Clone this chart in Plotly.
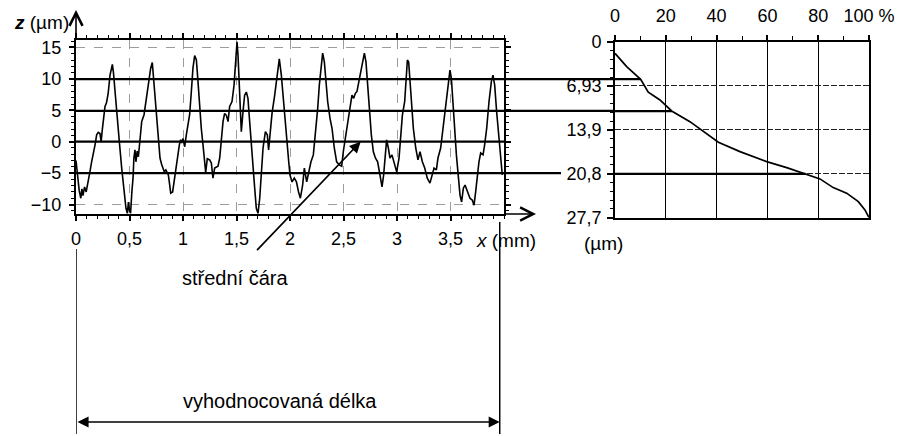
import numpy as np
import plotly.graph_objects as go

W, H = 901, 436
FONT = "Liberation Sans, Arial, sans-serif"

# Roughness profile: position along the sample (mm) and height z (µm)
PROFILE_X = [
    0.000, 0.015, 0.030, 0.045, 0.055, 0.065, 0.080, 0.095, 0.115, 0.130,
    0.146, 0.165, 0.178, 0.193, 0.208, 0.224, 0.235, 0.245, 0.255, 0.271,
    0.285, 0.300, 0.318, 0.333, 0.340, 0.350, 0.364, 0.380, 0.405, 0.427,
    0.449, 0.467, 0.480, 0.490, 0.500, 0.510, 0.522, 0.533, 0.541, 0.551,
    0.560, 0.572, 0.583, 0.598, 0.614, 0.636, 0.654, 0.676, 0.698, 0.713,
    0.729, 0.748, 0.766, 0.785, 0.800, 0.810, 0.825, 0.840, 0.863, 0.875,
    0.885, 0.903, 0.925, 0.947, 0.966, 0.978, 0.988, 1.000, 1.016, 1.031,
    1.047, 1.062, 1.078, 1.093, 1.109, 1.125, 1.140, 1.156, 1.171, 1.187,
    1.203, 1.212, 1.227, 1.249, 1.265, 1.280, 1.296, 1.327, 1.343, 1.358,
    1.374, 1.389, 1.405, 1.421, 1.436, 1.458, 1.477, 1.492, 1.505, 1.514,
    1.530, 1.545, 1.561, 1.576, 1.592, 1.607, 1.623, 1.639, 1.654, 1.670,
    1.685, 1.701, 1.717, 1.732, 1.748, 1.770, 1.788, 1.800, 1.813, 1.832,
    1.857, 1.882, 1.900, 1.919, 1.944, 1.966, 1.988, 2.000, 2.019, 2.040,
    2.060, 2.080, 2.097, 2.118, 2.134, 2.156, 2.175, 2.196, 2.218, 2.237,
    2.259, 2.274, 2.290, 2.305, 2.321, 2.336, 2.352, 2.374, 2.393, 2.414,
    2.436, 2.461, 2.483, 2.498, 2.517, 2.539, 2.561, 2.579, 2.595, 2.611,
    2.626, 2.648, 2.673, 2.695, 2.710, 2.726, 2.742, 2.760, 2.779, 2.798,
    2.819, 2.841, 2.860, 2.875, 2.891, 2.903, 2.919, 2.934, 2.953, 2.975,
    2.997, 3.019, 3.034, 3.050, 3.072, 3.087, 3.097, 3.109, 3.121, 3.137,
    3.153, 3.175, 3.196, 3.215, 3.237, 3.259, 3.283, 3.308, 3.330, 3.346,
    3.368, 3.383, 3.408, 3.433, 3.455, 3.477, 3.495, 3.508, 3.523, 3.539,
    3.555, 3.570, 3.589, 3.604, 3.620, 3.636, 3.657, 3.682, 3.704, 3.720,
    3.735, 3.751, 3.766, 3.782, 3.804, 3.819, 3.838, 3.860, 3.882, 3.897,
    3.913, 3.931, 3.953, 3.969, 3.984,
]
PROFILE_Z = [
    -3.0, -5.5, -7.8, -9.0, -7.5, -8.6, -7.2, -8.0, -5.8, -4.8,
    -3.2, -1.8, -0.5, 1.1, 1.5, 1.3, 0.0, 1.8, 3.2, 5.6,
    6.2, 7.6, 10.6, 11.9, 12.3, 11.0, 8.0, 4.3, 0.0, -4.2,
    -7.4, -10.6, -11.4, -9.6, -11.0, -11.4, -8.0, -5.8, -2.6, -1.3,
    -3.2, -1.5, -2.4, 0.5, 3.2, 4.3, 6.4, 9.0, 11.7, 12.6,
    9.0, 4.8, 0.5, -2.6, -3.6, -4.0, -4.8, -4.5, -5.3, -6.8,
    -8.2, -8.0, -5.3, -2.6, -0.5, 0.3, -0.2, 0.5, -0.8, 1.1,
    2.7, 4.3, 8.0, 11.7, 13.7, 13.0, 9.6, 5.3, 2.1, -0.5,
    -3.2, -4.9, -2.7, -2.9, -3.4, -5.8, -4.2, -3.9, -2.6, 0.5,
    3.2, 4.5, 4.2, 3.2, 5.6, 6.4, 9.0, 12.7, 15.9, 13.8,
    7.4, 1.6, 4.8, 7.4, 7.9, 6.9, 3.2, -1.0, -4.2, -7.4,
    -10.6, -11.4, -9.0, -4.2, -1.0, 1.6, 1.1, -1.3, 1.6, 4.5,
    7.4, 11.1, 13.2, 10.6, 5.3, 0.0, -3.2, -5.3, -6.4, -5.8,
    -6.4, -8.0, -9.0, -6.9, -4.2, -6.4, -4.8, -3.2, -2.1, 1.1,
    5.3, 9.0, 12.2, 14.1, 12.7, 9.0, 6.4, 3.7, 2.1, -1.0,
    -3.2, -3.7, -3.9, -1.6, 0.5, 2.7, 4.8, 7.4, 6.9, 7.7,
    8.0, 10.1, 12.2, 14.1, 12.7, 9.6, 5.3, 1.1, -1.6, -2.6,
    -3.2, -5.3, -7.2, -5.3, -1.6, 0.3, -1.0, -2.6, -2.1, -3.7,
    -4.8, -2.6, 1.1, 4.2, 6.4, 10.1, 13.0, 12.7, 10.1, 5.3,
    2.1, -1.0, -2.9, -1.6, -3.2, -4.2, -5.8, -6.6, -5.3, -4.2,
    -4.5, -2.6, -1.0, 2.7, 5.9, 9.0, 11.4, 10.1, 6.9, 2.1,
    -2.1, -5.3, -8.5, -9.6, -7.4, -6.9, -8.0, -9.0, -9.3, -10.1,
    -8.0, -5.3, -3.2, -1.8, -2.1, -0.5, 2.1, 6.4, 9.6, 10.6,
    9.0, 4.8, 0.5, -2.6, -5.3,
]

# Bearing-ratio (Abbott) curve: material ratio (%) vs. depth below the top (µm)
BEARING_RATIO = [0.0, 4.6, 10.1, 13.1, 17.7, 22.3, 29.5, 34.8, 40.7, 49.2,
                 59.7, 67.6, 75.5, 80.7, 85.9, 91.2, 95.8, 98.4, 100.0]
BEARING_DEPTH = [1.8, 3.89, 5.88, 7.93, 9.14, 10.88, 12.57, 14.14, 15.81, 17.29,
                 18.87, 19.82, 20.86, 21.6, 22.97, 23.85, 25.18, 26.49, 27.7]

# Axis tick positions and labels
DEPTH_TICKS = [0, 6.93, 13.86, 20.79, 27.72]
DEPTH_LABELS = ["0", "6,93", "13,9", "20,8", "27,7"]
RATIO_TICKS = [0, 20, 40, 60, 80, 100]
RATIO_LABELS = ["0", "20", "40", "60", "80", "100 %"]
X_TICKS = [0, 0.5, 1, 1.5, 2, 2.5, 3, 3.5]
Z_TICKS = [-10, -5, 0, 5, 10, 15]

# Section levels (depth below the profile top) and the profile top in z
Z_TOP = 15.8
CUT_DEPTH = [5.85, 10.9, 20.8]
EVAL_LENGTH = 3.96  # mm

cut_ratio = np.interp(CUT_DEPTH, BEARING_DEPTH, BEARING_RATIO)
cut_z = [Z_TOP - d for d in CUT_DEPTH]


def px(x):
    return x / W


def py(y):
    return 1 - y / H


fig = go.Figure()

fig.add_trace(go.Scatter(
    x=PROFILE_X, y=PROFILE_Z, mode="lines",
    line=dict(color="black", width=1.6), xaxis="x", yaxis="y",
))
fig.add_trace(go.Scatter(
    x=BEARING_RATIO, y=BEARING_DEPTH, mode="lines",
    line=dict(color="black", width=1.7), xaxis="x2", yaxis="y2",
))

tickfont = dict(family=FONT, size=18, color="black")

fig.update_layout(
    template="none",
    width=W, height=H,
    margin=dict(l=0, r=0, t=0, b=0, pad=0),
    paper_bgcolor="white", plot_bgcolor="white",
    showlegend=False,
    separators=", ",
    font=dict(family=FONT, color="black"),
    xaxis=dict(
        domain=[px(76), px(504)], range=[0, 4.0], anchor="y", automargin=False,
        tickvals=X_TICKS, tickfont=tickfont,
        ticks="outside", ticklen=5, tickwidth=1.5, tickcolor="black",
        minor=dict(tickmode="linear", tick0=0, dtick=0.1, ticks="outside",
                   ticklen=3, tickwidth=1.2, tickcolor="black", showgrid=False),
        showline=True, linecolor="black", linewidth=2.2, mirror="allticks",
        showgrid=True, gridcolor="#9c9c9c", griddash="dash", gridwidth=1,
        zeroline=False, ticklabelstandoff=2,
    ),
    yaxis=dict(
        domain=[py(214), py(40)], range=[-11.51, 16.19], anchor="x", automargin=False,
        tickvals=Z_TICKS, tickfont=tickfont,
        ticks="outside", ticklen=5, tickwidth=1.5, tickcolor="black",
        minor=dict(tickmode="linear", tick0=0, dtick=1, ticks="outside",
                   ticklen=3, tickwidth=1.2, tickcolor="black", showgrid=False),
        showline=True, linecolor="black", linewidth=2.2, mirror="allticks",
        showgrid=True, gridcolor="#9c9c9c", griddash="dash", gridwidth=1,
        zeroline=False, ticklabelstandoff=4,
    ),
    xaxis2=dict(
        domain=[px(615), px(869)], range=[0, 100], anchor="y2", side="top",
        automargin=False,
        tickvals=RATIO_TICKS, ticktext=RATIO_LABELS, tickfont=tickfont,
        ticks="outside", ticklen=5, tickwidth=1.5, tickcolor="black",
        minor=dict(tickmode="linear", tick0=0, dtick=10, ticks="outside",
                   ticklen=4, tickwidth=1.2, tickcolor="black", showgrid=False),
        showline=True, linecolor="black", linewidth=1.8, mirror=True,
        showgrid=True, gridcolor="black", gridwidth=1.2,
        zeroline=False, ticklabelstandoff=6,
    ),
    yaxis2=dict(
        domain=[py(217.7), py(42)], range=[27.72, 0], anchor="x2", automargin=False,
        tickvals=DEPTH_TICKS, ticktext=DEPTH_LABELS, tickfont=tickfont,
        ticks="outside", ticklen=6, tickwidth=1.5, tickcolor="black",
        minor=dict(tickmode="linear", tick0=0, dtick=1.386, ticks="outside",
                   ticklen=3, tickwidth=1.2, tickcolor="black", showgrid=False),
        showline=True, linecolor="black", linewidth=1.8, mirror=True,
        showgrid=True, gridcolor="#222", griddash="6px,2px", gridwidth=1.2,
        zeroline=False, ticklabelstandoff=2,
    ),
)

shapes = []
# mean line of the profile
shapes.append(dict(type="line", xref="x", yref="y", x0=0, x1=4.08, y0=0, y1=0,
                   line=dict(color="black", width=2.2)))
# section levels carried over from the profile to the bearing curve
for i, (z, d, r) in enumerate(zip(cut_z, CUT_DEPTH, cut_ratio)):
    x_end = px(561) if i == len(cut_z) - 1 else px(615)
    shapes.append(dict(type="line", xref="paper", yref="y", x0=px(76), x1=x_end,
                       y0=z, y1=z, line=dict(color="black", width=2.2)))
    shapes.append(dict(type="line", xref="x2", yref="y2", x0=0, x1=r,
                       y0=d, y1=d, line=dict(color="black", width=2.2)))
# extension lines of the evaluation length
shapes.append(dict(type="line", xref="x", yref="paper", x0=0, x1=0,
                   y0=py(434), y1=py(249), line=dict(color="black", width=1.5)))
shapes.append(dict(type="line", xref="x", yref="paper", x0=EVAL_LENGTH, x1=EVAL_LENGTH,
                   y0=py(434), y1=py(222), line=dict(color="black", width=1.5)))
fig.update_layout(shapes=shapes)


def label(x, y, text, size=20):
    return dict(xref="paper", yref="paper", x=px(x), y=py(y), text=text,
                showarrow=False, xanchor="center", yanchor="middle",
                font=dict(family=FONT, size=size, color="black"))


ann = []
# axis arrows
ann.append(dict(xref="paper", yref="paper", x=px(76), y=py(10), ax=0, ay=31,
                text="", showarrow=True, arrowhead=5, arrowsize=1.6,
                arrowwidth=1.6, arrowcolor="black"))
ann.append(dict(xref="paper", yref="paper", x=px(536), y=py(214), ax=-33, ay=0,
                text="", showarrow=True, arrowhead=5, arrowsize=1.6,
                arrowwidth=1.6, arrowcolor="black"))
# axis titles
ann.append(label(41, 22, "<b><i>z</i></b> (µm)", 19))
ann.append(label(506, 241, "<i>x</i> (mm)", 19))
ann.append(label(603, 243, "(µm)", 19))
# mean line callout
ann.append(dict(xref="x", yref="y", x=2.66, y=0, ax=-105, ay=110,
                text="", showarrow=True, arrowhead=2, arrowsize=1.3,
                arrowwidth=1.7, arrowcolor="black"))
ann.append(label(235, 278, "střední čára"))
# evaluation length dimension
ann.append(dict(xref="x", yref="paper", x=EVAL_LENGTH, y=py(422), axref="x", ax=0,
                ay=0, text="", showarrow=True, arrowside="end+start",
                arrowhead=2, startarrowhead=2, arrowsize=1.3, startarrowsize=1.3,
                arrowwidth=1.7, arrowcolor="black"))
ann.append(label(280, 401, "vyhodnocovaná délka"))
fig.update_layout(annotations=ann)

fig.write_html("out.html")
